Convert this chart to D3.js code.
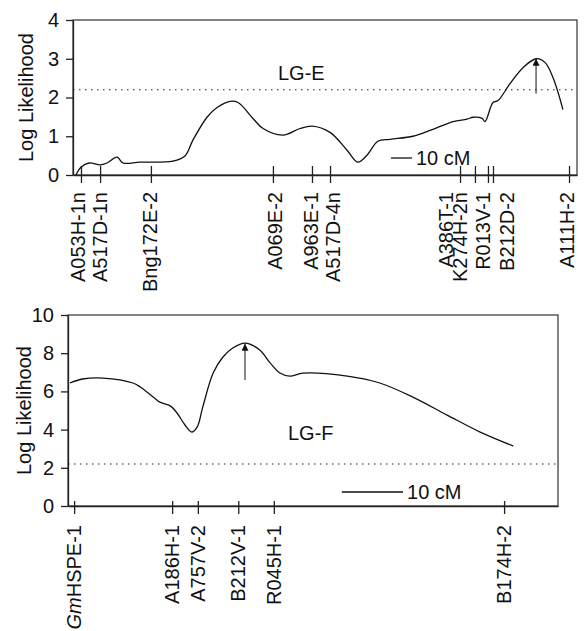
<!DOCTYPE html>
<html>
<head>
<meta charset="utf-8">
<script src="https://cdn.jsdelivr.net/npm/d3@7"></script>
<style>
  body { margin: 0; background: #fff; }
  svg { font-family: "Liberation Sans", Arial, sans-serif; }
  .axis path, .axis line { stroke: #222; stroke-width: 1.3; }
  .axis text { font-size: 20px; fill: #111; }
</style>
</head>
<body>
<div class="chart"></div>
<script>
// LG-E : position (cM), log likelihood
var lgePos = [1.4, 3.8, 7.6, 12.9, 16.2, 21.0, 23.8, 31.9, 47.6, 53.3, 57.1, 63.8, 68.6, 74.8, 78.6,
  85.7, 90.5, 100, 108.1, 113.8, 122.4, 130.5, 135.7, 140, 145.2, 151, 161.9, 170, 181, 187.6,
  190.5, 194.8, 196.2, 200, 202.4, 208.1, 214.3, 220.5, 224.8, 228.6, 233.3];
var lgeLod = [0, 0.2, 0.31, 0.26, 0.31, 0.46, 0.31, 0.33, 0.36, 0.49, 0.9, 1.49, 1.74, 1.9, 1.87,
  1.46, 1.2, 1.03, 1.2, 1.26, 1.1, 0.64, 0.33, 0.51, 0.87, 0.92, 1.0, 1.15, 1.38, 1.44,
  1.49, 1.46, 1.38, 1.87, 1.92, 2.36, 2.77, 3.0, 2.9, 2.51, 1.69];
var lgeMarkers = ["A053H-1n", "A517D-1n", "Bng172E-2", "A069E-2", "A963E-1", "A517D-4n",
  "A386T-1", "K274H-2n", "R013V-1", "B212D-2", "A111H-2"];
var lgeMarkerPos = [3.8, 12.9, 37.1, 95.2, 113.8, 122.4, 184.3, 191.4, 197.6, 200, 236.2];
// label positions where crowded labels are shifted apart
var lgeLabelPos = [2.4, 12.9, 36.7, 96.2, 113.3, 123.8, 177.6, 184.3, 195.2, 206.7, 235.2];

// LG-F
var lgfPos = [0.3, 2.4, 5.7, 10.6, 11.8, 13.9, 15, 16.7, 17.8, 19.1, 20.2, 21.1, 22, 23.7, 25.3,
  26.9, 28.9, 31.3, 33, 34.6, 36.2, 38.4, 45.6, 50.9, 56.3, 61.9, 67.3, 72.7];
var lgfLod = [6.44, 6.65, 6.7, 6.44, 6.23, 5.71, 5.44, 5.24, 4.87, 4.24, 3.87, 4.14, 5.18, 6.96, 7.8,
  8.27, 8.53, 8.17, 7.49, 6.96, 6.8, 6.96, 6.8, 6.44, 5.7, 4.76, 3.87, 3.14];
var lgfMarkers = ["GmHSPE-1", "A186H-1", "A757V-2", "B212V-1", "R045H-1", "B174H-2"];
var lgfMarkerPos = [1, 17, 21.2, 27.8, 33.6, 71.2];

var threshold = 2.2;

var svg = d3.select(".chart").append("svg")
    .attr("width", 586)
    .attr("height", 631);

svg.append("defs").append("marker")
    .attr("id", "head")
    .attr("viewBox", "0 0 10 10")
    .attr("refX", 10).attr("refY", 5)
    .attr("markerWidth", 15).attr("markerHeight", 7)
    .attr("markerUnits", "userSpaceOnUse")
    .attr("orient", "auto")
    .append("path")
    .attr("d", "M0,0 L10,5 L0,10 Z")
    .attr("fill", "#111");

function drawPanel(cfg) {
    var x = d3.scaleLinear().domain(cfg.xDomain).range([cfg.left, cfg.right]);
    var y = d3.scaleLinear().domain(cfg.yDomain).range([cfg.bottom, cfg.top]);
    var g = svg.append("g");

    // frame
    g.append("rect")
        .attr("x", cfg.left).attr("y", cfg.top)
        .attr("width", cfg.right - cfg.left).attr("height", cfg.bottom - cfg.top)
        .attr("fill", "none").attr("stroke", "#333").attr("stroke-width", 1.2);

    // y axis
    g.append("g")
        .attr("class", "axis")
        .attr("transform", "translate(" + cfg.left + ",0)")
        .call(d3.axisLeft(y).tickValues(cfg.yTicks).tickFormat(d3.format("d"))
            .tickSize(7).tickPadding(7).tickSizeOuter(0));

    // x axis with marker ticks
    var xa = g.append("g")
        .attr("class", "axis")
        .attr("transform", "translate(0," + cfg.bottom + ")")
        .call(d3.axisBottom(x).tickValues(cfg.markerPos).tickSize(8).tickSizeOuter(0).tickFormat(""));
    xa.selectAll(".tick line").attr("y1", -cfg.tickUp);
    xa.selectAll(".tick text").remove();

    var lp = cfg.labelPos || cfg.markerPos;
    g.selectAll(".mlabel")
        .data(cfg.markers)
        .enter()
        .append("text")
        .attr("class", "mlabel")
        .attr("transform", function(d, i) {
            return "translate(" + x(lp[i]) + "," + (cfg.bottom + cfg.labelGap) + ") rotate(-90)";
        })
        .attr("dy", "0.36em")
        .attr("text-anchor", "end")
        .style("font-size", "20px")
        .attr("fill", "#111")
        .each(function(d) {
            var t = d3.select(this);
            if (d.indexOf("Gm") === 0) {
                t.append("tspan").style("font-style", "italic").text("Gm");
                t.append("tspan").text(d.slice(2));
            } else {
                t.text(d);
            }
        });

    // y label
    g.append("text")
        .attr("transform", "translate(" + cfg.yLabelX + "," + ((cfg.top + cfg.bottom) / 2) + ") rotate(-90)")
        .attr("text-anchor", "middle")
        .style("font-size", "20px")
        .attr("fill", "#111")
        .text("Log Likelihood");

    // threshold
    g.append("line")
        .attr("x1", cfg.left).attr("x2", cfg.right)
        .attr("y1", y(threshold)).attr("y2", y(threshold))
        .attr("stroke", "#222").attr("stroke-width", 1.2)
        .attr("stroke-dasharray", "1.5,4.5");

    // LOD curve
    var pts = cfg.pos.map(function(p, i) { return [p, cfg.lod[i]]; });
    g.append("path")
        .datum(pts)
        .attr("fill", "none")
        .attr("stroke", "#111")
        .attr("stroke-width", 1.3)
        .attr("d", d3.line()
            .x(function(d) { return x(d[0]); })
            .y(function(d) { return y(d[1]); })
            .curve(d3.curveCatmullRom.alpha(0.5)));

    // arrow at peak
    g.append("line")
        .attr("x1", x(cfg.arrowPos)).attr("x2", x(cfg.arrowPos))
        .attr("y1", y(cfg.arrowFrom)).attr("y2", y(cfg.arrowTo))
        .attr("stroke", "#111").attr("stroke-width", 1)
        .attr("marker-end", "url(#head)");

    // group name
    g.append("text")
        .attr("x", cfg.nameX).attr("y", cfg.nameY)
        .style("font-size", "20px")
        .attr("fill", "#111")
        .text(cfg.name);

    // 10 cM scale bar
    g.append("line")
        .attr("x1", x(cfg.barStart)).attr("x2", x(cfg.barStart + 10))
        .attr("y1", cfg.barY).attr("y2", cfg.barY)
        .attr("stroke", "#111").attr("stroke-width", 1.3);
    g.append("text")
        .attr("x", x(cfg.barStart + 10) + 4).attr("y", cfg.barY + 7)
        .style("font-size", "20px")
        .attr("fill", "#111")
        .text("10 cM");
}

drawPanel({
    left: 73, right: 577, top: 20, bottom: 175,
    xDomain: [0, 240], yDomain: [0, 4], yTicks: [0, 1, 2, 3, 4],
    pos: lgePos, lod: lgeLod, markers: lgeMarkers, markerPos: lgeMarkerPos, labelPos: lgeLabelPos,
    tickUp: 9, labelGap: 17, yLabelX: 33,
    arrowPos: 220.5, arrowFrom: 2.1, arrowTo: 3.0,
    name: "LG-E", nameX: 278, nameY: 80,
    barStart: 151.4, barY: 158
});

drawPanel({
    left: 68, right: 558, top: 315, bottom: 506,
    xDomain: [0, 80], yDomain: [0, 10], yTicks: [0, 2, 4, 6, 8, 10],
    pos: lgfPos, lod: lgfLod, markers: lgfMarkers, markerPos: lgfMarkerPos,
    tickUp: 5, labelGap: 19, yLabelX: 31,
    arrowPos: 28.9, arrowFrom: 6.6, arrowTo: 8.5,
    name: "LG-F", nameX: 288, nameY: 440,
    barStart: 44.7, barY: 492
});
</script>
</body>
</html>
